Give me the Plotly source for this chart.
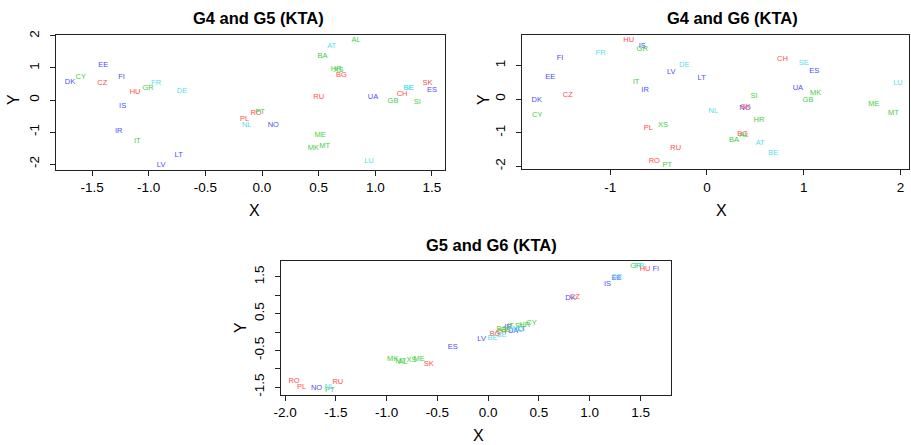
import plotly.graph_objects as go

countries = ["AL", "AT", "BA", "BE", "BG", "CH", "CY", "CZ", "DE", "DK", "EE", "ES", "FI",
             "FR", "GB", "GR", "HR", "HU", "IR", "IS", "IT", "LT", "LU", "LV", "ME", "MK",
             "MT", "NL", "NO", "PL", "PT", "RO", "RU", "SE", "SI", "SK", "UA", "XS"]
groups = ["green", "cyan", "green", "cyan", "red", "red", "green", "red", "cyan", "blue",
          "blue", "blue", "blue", "cyan", "green", "green", "green", "red", "blue", "blue",
          "green", "blue", "cyan", "blue", "green", "green", "green", "cyan", "blue", "red",
          "green", "red", "red", "cyan", "green", "red", "blue", "green"]

g45_x = [0.83, 0.615, 0.535, 1.29, 0.70, 1.236, -1.60, -1.41, -0.706, -1.695, -1.40, 1.50, -1.24,
         -0.935, 1.156, -1.006, 0.655, -1.12, -1.265, -1.23, -1.10, -0.735, 0.944, -0.89, 0.512, 0.453,
         0.553, -0.135, 0.10, -0.153, -0.018, -0.053, 0.50, 1.295, 1.37, 1.46, 0.98, 0.675]
g45_y = [1.87, 1.68, 1.375, 0.38, 0.77, 0.18, 0.71, 0.52, 0.27, 0.57, 1.09, 0.30, 0.72,
         0.52, -0.03, 0.36, 0.95, 0.24, -0.97, -0.20, -1.28, -1.73, -1.92, -2.04, -1.10, -1.51,
         -1.45, -0.79, -0.79, -0.60, -0.375, -0.42, 0.08, 0.36, -0.06, 0.53, 0.08, 0.93]

g46_x = [0.38, 0.55, 0.28, 0.686, 0.37, 0.78, -1.755, -1.44, -0.235, -1.76, -1.62, 1.11, -1.52,
         -1.10, 1.045, -0.67, 0.538, -0.81, -0.64, -0.67, -0.734, -0.055, 1.975, -0.37, 1.727, 1.124,
         1.927, 0.065, 0.393, -0.607, -0.41, -0.545, -0.324, 1.00, 0.486, 0.40, 0.94, -0.455]
g46_y = [-1.07, -1.32, -1.23, -1.62, -1.05, 1.18, -0.49, 0.11, 1.01, -0.04, 0.65, 0.82, 1.22,
         1.36, -0.04, 1.48, -0.63, 1.75, 0.26, 1.56, 0.50, 0.62, 0.47, 0.79, -0.16, 0.17,
         -0.43, -0.37, -0.28, -0.87, -1.97, -1.85, -1.47, 1.06, 0.08, -0.23, 0.32, -0.78]

g56_x = [-0.837, 0.27, 0.13, 0.043, 0.066, 0.13, 0.427, 0.853, 1.27, 0.81, 1.264, -0.35, 1.65,
         1.49, 0.17, 1.454, 0.36, 1.545, 0.197, 1.175, 0.22, 0.33, 0.30, -0.065, -0.68, -0.94,
         -0.862, -1.565, -1.69, -1.837, -1.56, -1.912, -1.48, 0.13, 0.30, -0.584, 0.246, -0.754]
g56_y = [-0.81, 0.07, 0.08, -0.155, -0.055, 0.0, 0.24, 0.95, 1.50, 0.92, 1.48, -0.42, 1.71,
         1.79, 0.05, 1.79, 0.19, 1.71, 0.12, 1.30, 0.15, 0.08, 0.04, -0.20, -0.75, -0.73,
         -0.79, -1.50, -1.53, -1.49, -1.59, -1.34, -1.37, -0.08, 0.16, -0.87, 0.01, -0.77]

titles = ["G4 and G5 (KTA)", "G4 and G6 (KTA)", "G5 and G6 (KTA)"]

p1_xticks = [-1.5, -1.0, -0.5, 0.0, 0.5, 1.0, 1.5]
p1_xlabels = ["-1.5", "-1.0", "-0.5", "0.0", "0.5", "1.0", "1.5"]
p1_yticks = [-2, -1, 0, 1, 2]
p1_ylabels = ["-2", "-1", "0", "1", "2"]
p2_xticks = [-1, 0, 1, 2]
p2_xlabels = ["-1", "0", "1", "2"]
p2_yticks = [-2, -1, 0, 1]
p2_ylabels = ["-2", "-1", "0", "1"]
p3_xticks = [-2.0, -1.5, -1.0, -0.5, 0.0, 0.5, 1.0, 1.5]
p3_xlabels = ["-2.0", "-1.5", "-1.0", "-0.5", "0.0", "0.5", "1.0", "1.5"]
p3_yticks = [-1.5, -1.0, -0.5, 0.0, 0.5, 1.0, 1.5]
p3_ylabels = ["-1.5", "", "-0.5", "", "0.5", "", "1.5"]

colors = {"blue": "#4d4dff", "red": "#ff4d4d", "green": "#3fcf3f", "cyan": "#55dfea"}
W, H = 911, 445
FONT = "Liberation Sans, Arial, Helvetica, sans-serif"

fig = go.Figure()

panels = [
    dict(xs=g45_x, ys=g45_y, xa="x", ya="y"),
    dict(xs=g46_x, ys=g46_y, xa="x2", ya="y2"),
    dict(xs=g56_x, ys=g56_y, xa="x3", ya="y3"),
]
for p in panels:
    for g in ["blue", "red", "green", "cyan"]:
        idx = [i for i, gg in enumerate(groups) if gg == g]
        fig.add_trace(go.Scatter(
            x=[p["xs"][i] for i in idx], y=[p["ys"][i] for i in idx],
            text=[countries[i] for i in idx], mode="text",
            textfont=dict(color=colors[g], size=7.5, family=FONT),
            textposition="middle center", xaxis=p["xa"], yaxis=p["ya"],
            showlegend=False, hoverinfo="text"))


def px_x(px):
    return px / W


def px_y(py):
    return 1 - py / H


def axis(domain, rng, tv, tt, anchor, angle=0, standoff=None):
    d = dict(domain=domain, range=rng, tickvals=tv, ticktext=tt, tickmode="array",
             showgrid=False, zeroline=False, showline=True, mirror=True, automargin=False,
             linecolor="#222", linewidth=1, ticks="outside", ticklen=5, tickcolor="#222",
             tickfont=dict(size=13.5, family=FONT, color="black"), tickangle=angle,
             anchor=anchor)
    if standoff is not None:
        d["ticklabelstandoff"] = standoff
    return d


fig.update_layout(
    width=W, height=H, autosize=False,
    margin=dict(l=0, r=0, t=0, b=0),
    paper_bgcolor="white", plot_bgcolor="white",
    xaxis=axis([px_x(56), px_x(445)], [-1.818, 1.615], p1_xticks, p1_xlabels, "y"),
    yaxis=axis([px_y(169.5), px_y(35)], [-2.17, 2.03], p1_yticks, p1_ylabels, "x", -90, 6),
    xaxis2=axis([px_x(522), px_x(909)], [-1.913, 2.089], p2_xticks, p2_xlabels, "y2"),
    yaxis2=axis([px_y(169.3), px_y(35)], [-2.09, 1.905], p2_yticks, p2_ylabels, "x2", -90, 6),
    xaxis3=axis([px_x(281), px_x(671)], [-2.04, 1.80], p3_xticks, p3_xlabels, "y3"),
    yaxis3=axis([px_y(395), px_y(260.7)], [-1.717, 1.943], p3_yticks, p3_ylabels, "x3", -90, 6),
)

ann = []
title_pos = [(258, 18), (732, 18), (491, 245)]
for t, (x, y) in zip(titles, title_pos):
    ann.append(dict(text="<b>" + t + "</b>", x=px_x(x), y=px_y(y), xref="paper", yref="paper",
                    showarrow=False, font=dict(size=16.5, family=FONT, color="black"),
                    xanchor="center", yanchor="middle"))
for (x, y) in [(254, 210), (721, 210), (478, 435)]:
    ann.append(dict(text="X", x=px_x(x), y=px_y(y), xref="paper", yref="paper",
                    showarrow=False, font=dict(size=16, family=FONT, color="black"),
                    xanchor="center", yanchor="middle"))
for (x, y) in [(13, 100), (483, 100), (240, 328)]:
    ann.append(dict(text="Y", x=px_x(x), y=px_y(y), xref="paper", yref="paper",
                    showarrow=False, textangle=-90, font=dict(size=16, family=FONT, color="black"),
                    xanchor="center", yanchor="middle"))
fig.update_layout(annotations=ann)

fig.write_html("out.html")
